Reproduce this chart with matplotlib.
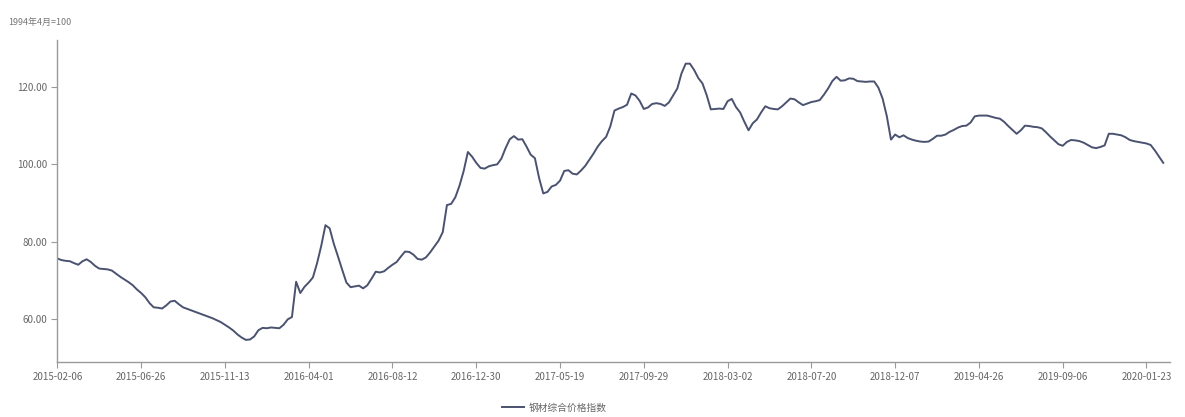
import matplotlib
matplotlib.use("Agg")
import matplotlib.pyplot as plt

plt.rcParams['font.family'] = ['Noto Sans CJK SC', 'DejaVu Sans']

# 钢材综合价格指数, weekly
series_name = '钢材综合价格指数'
unit_note = '1994年4月=100'
values = [
    75.7, 75.3, 75.1, 75.0, 74.5, 74.1, 75.0, 75.5, 74.8, 73.8,
    73.1, 73.0, 72.9, 72.6, 71.8, 71.0, 70.3, 69.6, 68.8, 67.7,
    66.8, 65.7, 64.2, 63.1, 63.0, 62.8, 63.6, 64.6, 64.8, 63.9,
    63.1, 62.7, 62.3, 61.9, 61.5, 61.1, 60.7, 60.3, 59.8, 59.3,
    58.6, 57.9, 57.1, 56.1, 55.3, 54.7, 54.8, 55.6, 57.2, 57.8,
    57.7, 57.9, 57.8, 57.7, 58.6, 60.0, 60.6, 69.7, 66.8, 68.4,
    69.5, 70.8, 74.5, 79.0, 84.3, 83.5, 79.5, 76.2, 72.8, 69.5,
    68.3, 68.5, 68.7, 68.0, 68.8, 70.5, 72.3, 72.1, 72.4, 73.3,
    74.1, 74.8, 76.2, 77.5, 77.4, 76.7, 75.6, 75.4, 76.0, 77.3,
    78.8, 80.3, 82.5, 89.5, 89.8, 91.5, 94.5, 98.3, 103.2, 102.0,
    100.4, 99.1, 98.9, 99.5, 99.8, 100.0, 101.5, 104.2, 106.5, 107.3,
    106.4, 106.5, 104.6, 102.5, 101.6, 96.5, 92.5, 92.9, 94.3, 94.7,
    95.8, 98.3, 98.5, 97.6, 97.4, 98.4, 99.6, 101.2, 102.8, 104.6,
    106.0, 107.1, 109.8, 113.9, 114.4, 114.8, 115.4, 118.3, 117.8, 116.4,
    114.3, 114.7, 115.6, 115.8, 115.6, 115.1, 116.0, 117.8, 119.6, 123.5,
    126.0, 126.0, 124.4, 122.3, 120.9, 117.9, 114.2, 114.3, 114.4, 114.3,
    116.3, 116.9, 114.8, 113.4, 111.0, 108.8, 110.6, 111.6, 113.4, 115.0,
    114.5, 114.3, 114.2, 115.0, 116.0, 117.0, 116.8, 116.0, 115.3, 115.7,
    116.1, 116.3, 116.6, 118.0, 119.6, 121.5, 122.6, 121.6, 121.7, 122.2,
    122.1, 121.5, 121.4, 121.3, 121.4, 121.4, 119.8, 117.0, 112.5, 106.4,
    107.7, 107.0, 107.5, 106.8, 106.4, 106.1, 105.9, 105.8, 105.9, 106.6,
    107.4, 107.4, 107.7, 108.4, 108.9, 109.5, 109.9, 110.0, 110.8, 112.4,
    112.6, 112.6, 112.6, 112.3, 112.0, 111.8, 111.0, 109.9, 108.9, 107.9,
    108.8, 110.0, 109.9, 109.7, 109.6, 109.3, 108.3, 107.2, 106.2, 105.2,
    104.8, 105.8, 106.3, 106.2, 106.0, 105.6, 105.0, 104.4, 104.2, 104.5,
    104.9, 107.9, 107.9, 107.7, 107.5, 107.0, 106.3, 106.0, 105.8, 105.6,
    105.4, 105.0, 103.6, 102.0, 100.4,
]
tick_labels = ['2015-02-06', '2015-06-26', '2015-11-13', '2016-04-01', '2016-08-12',
               '2016-12-30', '2017-05-19', '2017-09-29', '2018-03-02', '2018-07-20',
               '2018-12-07', '2019-04-26', '2019-09-06', '2020-01-23']
y_ticks = [60, 80, 100, 120]

fig = plt.figure(figsize=(11.85, 4.17), dpi=100)
ax = fig.add_axes([0.0484, 0.132, 0.9389, 0.772])

x = list(range(len(values)))
line, = ax.plot(x, values, color='#4a5270', linewidth=1.4, label=series_name)

ax.set_xlim(0, 265.6)
ax.set_ylim(49.0, 132.1)

# category axis, one label every 20 weeks
ax.set_xticks(list(range(0, 20 * len(tick_labels), 20)))
ax.set_xticklabels(tick_labels)
ax.set_yticks(y_ticks)
ax.set_yticklabels(['%.2f' % v for v in y_ticks])

for s in ['top', 'right']:
    ax.spines[s].set_visible(False)
for s in ['left', 'bottom']:
    ax.spines[s].set_color('#9a9a9a')
    ax.spines[s].set_linewidth(1.0)
ax.tick_params(axis='both', colors='#9a9a9a', labelcolor='#666666', labelsize=7,
               length=4, width=0.8, direction='out', pad=3)

fig.text(0.007, 0.945, unit_note, fontsize=6.5, color='#777777', ha='left', va='center')

fig.legend(handles=[line], loc='center', bbox_to_anchor=(0.468, 0.022), frameon=False,
           fontsize=7, labelcolor='#666666', handlelength=2.2, handletextpad=0.5)

fig.savefig('out.png', dpi=100)
